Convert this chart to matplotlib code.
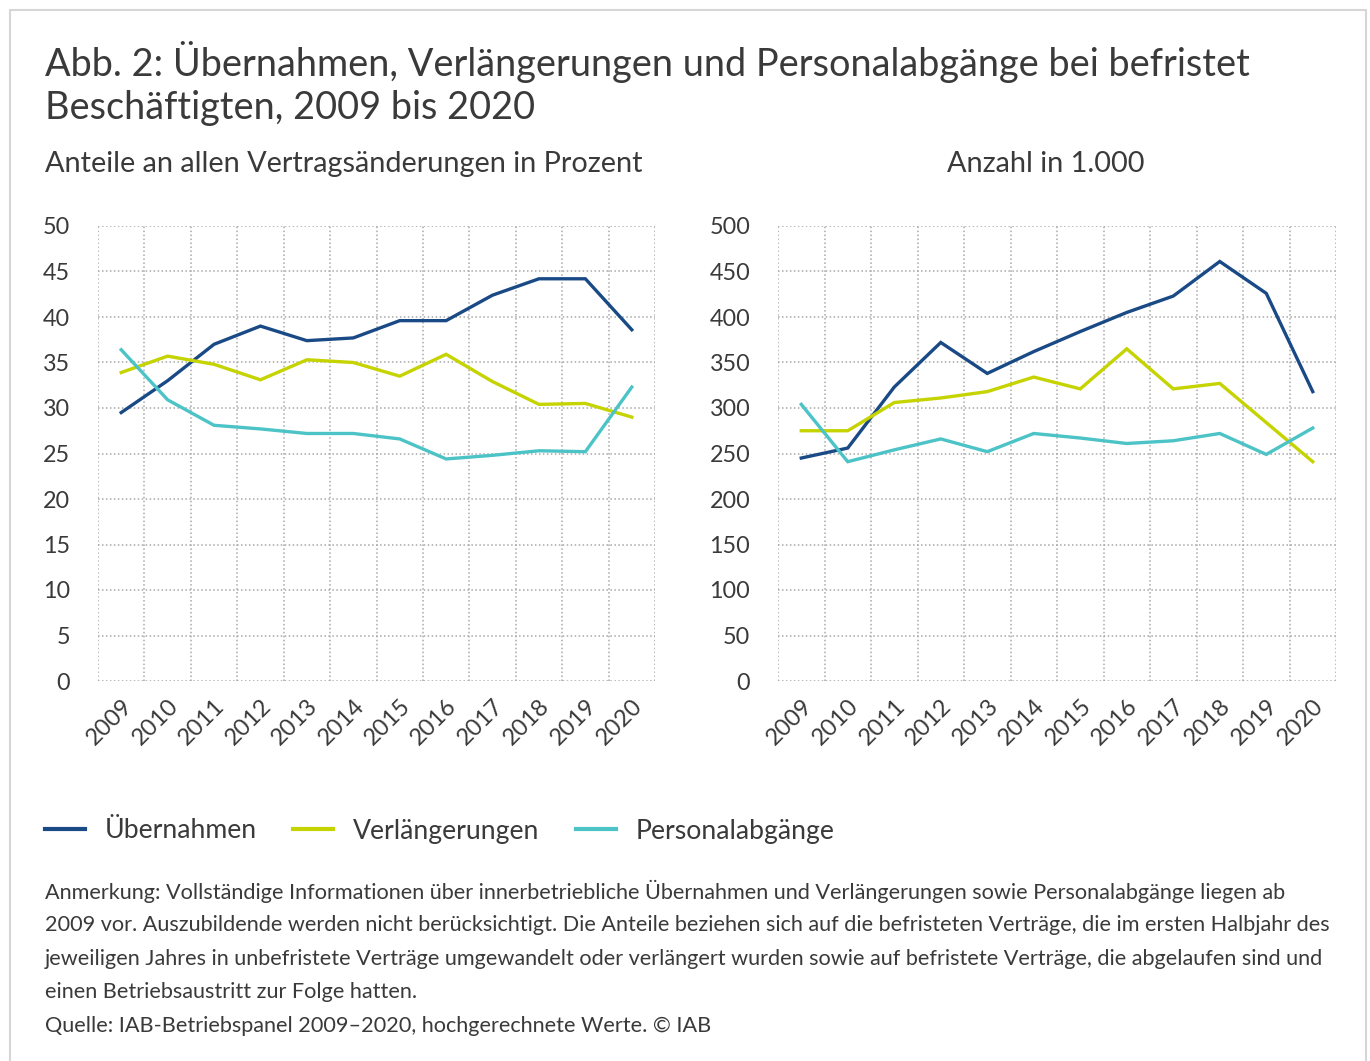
import matplotlib
matplotlib.use("Agg")
import matplotlib.pyplot as plt
from matplotlib.patches import Rectangle
from matplotlib.lines import Line2D

plt.rcParams["font.family"] = ["Lato", "DejaVu Sans"]

years = [str(y) for y in range(2009, 2021)]
series_names = ["Übernahmen", "Verlängerungen", "Personalabgänge"]
colors = ["#1a4a86", "#c5d300", "#4cc3c6"]

# Anteile in Prozent
uebernahmen_pct = [29.5, 33.0, 37.0, 39.0, 37.4, 37.7, 39.6, 39.6, 42.4, 44.2, 44.2, 38.6]
verlaengerungen_pct = [33.9, 35.7, 34.8, 33.1, 35.3, 35.0, 33.5, 35.9, 32.9, 30.4, 30.5, 29.0]
abgaenge_pct = [36.4, 30.9, 28.1, 27.7, 27.2, 27.2, 26.6, 24.4, 24.8, 25.3, 25.2, 32.3]

# Anzahl in 1.000
uebernahmen_n = [245, 256, 323, 372, 338, 362, 384, 405, 423, 461, 426, 318]
verlaengerungen_n = [275, 275, 306, 311, 318, 334, 321, 365, 321, 327, 284, 241]
abgaenge_n = [304, 241, 254, 266, 252, 272, 267, 261, 264, 272, 249, 278]

W, H = 1370, 1061
fig = plt.figure(figsize=(W / 100, H / 100), dpi=100, facecolor="white")

def fx(px): return px / W
def fy(py): return 1 - py / H

fig.patches.append(Rectangle((fx(10), -0.02), fx(1356), fy(10) + 0.02, transform=fig.transFigure,
                             fill=False, edgecolor="#d6d6d6", linewidth=1.5))

txt = "#3a3a3a"
fig.text(fx(45), fy(62), "Abb. 2: Übernahmen, Verlängerungen und Personalabgänge bei befristet",
         fontsize=27.3, color=txt, va="center", ha="left")
fig.text(fx(45), fy(108), "Beschäftigten, 2009 bis 2020", fontsize=27.3, color=txt, va="center", ha="left")
fig.text(fx(45), fy(164), "Anteile an allen Vertragsänderungen in Prozent", fontsize=20.8, color=txt,
         va="center", ha="left")
fig.text(fx(1046), fy(164), "Anzahl in 1.000", fontsize=20.8, color=txt, va="center", ha="center")

ax1 = fig.add_axes([fx(98), fy(681), fx(557), fy(226) - fy(681)])
ax2 = fig.add_axes([fx(778), fy(681), fx(558), fy(226) - fy(681)])

x = list(range(len(years)))
panels = [
    (ax1, [uebernahmen_pct, verlaengerungen_pct, abgaenge_pct], 50, 5),
    (ax2, [uebernahmen_n, verlaengerungen_n, abgaenge_n], 500, 50),
]
for ax, data, ymax, step in panels:
    for vals, c in zip(data, colors):
        ax.plot(x, vals, color=c, linewidth=2.4, solid_joinstyle="miter")
    ax.set_xlim(-0.5, len(years) - 0.5)
    ax.set_ylim(0, ymax)
    ax.set_yticks(range(0, ymax + 1, step))
    ax.set_xticks([i - 0.5 for i in range(len(years) + 1)], minor=False)
    ax.set_xticklabels([])
    ax.set_xticks(x, minor=True)
    ax.set_xticklabels(years, minor=True, rotation=45, ha="right", rotation_mode="anchor",
                       fontsize=17, color=txt)
    ax.tick_params(axis="x", which="both", length=0, pad=10)
    ax.tick_params(axis="y", length=0, pad=20, labelsize=16.8, labelcolor=txt)
    ax.grid(True, which="major", color="#a8a8a8", linestyle=(0, (1, 1.6)), linewidth=1.1)
    ax.set_axisbelow(True)
    for s in ax.spines.values():
        s.set_visible(False)

handles = [Line2D([], [], color=c, linewidth=3) for c in colors]
fig.legend(handles, series_names, loc="center left", bbox_to_anchor=(fx(45), fy(831)),
           ncol=3, frameon=False, fontsize=19.2, handlelength=1.5, handletextpad=0.75,
           columnspacing=1.35, borderaxespad=0, borderpad=0, labelcolor=txt)

notes = [
    "Anmerkung: Vollständige Informationen über innerbetriebliche Übernahmen und Verlängerungen sowie Personalabgänge liegen ab",
    "2009 vor. Auszubildende werden nicht berücksichtigt. Die Anteile beziehen sich auf die befristeten Verträge, die im ersten Halbjahr des",
    "jeweiligen Jahres in unbefristete Verträge umgewandelt oder verlängert wurden sowie auf befristete Verträge, die abgelaufen sind und",
    "einen Betriebsaustritt zur Folge hatten.",
    "Quelle: IAB-Betriebspanel 2009–2020, hochgerechnete Werte. © IAB",
]
for i, line in enumerate(notes):
    fig.text(fx(45), fy(891 + i * 33.8), line, fontsize=15.6, color=txt, va="center", ha="left")

fig.savefig("out.png", dpi=100, facecolor="white")
